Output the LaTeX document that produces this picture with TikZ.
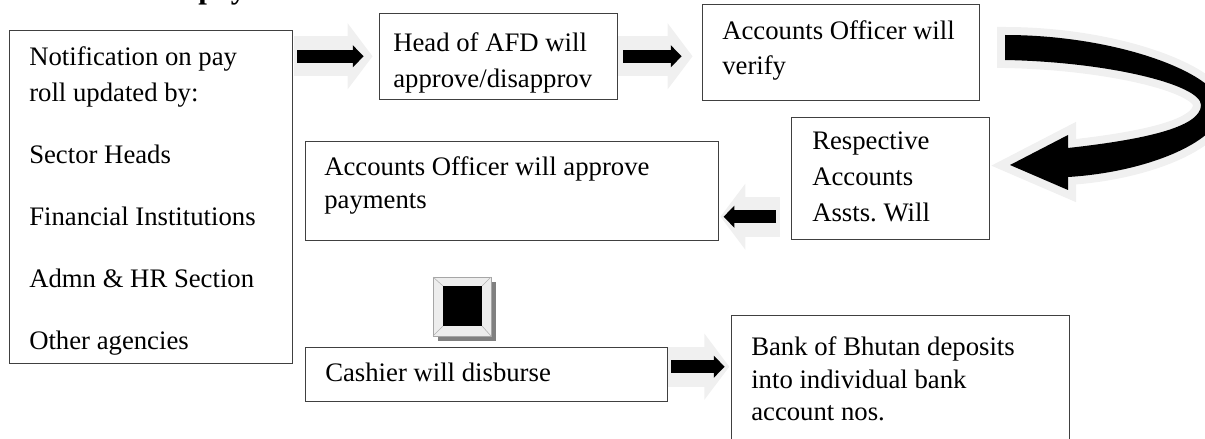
\documentclass[tikz,border=0pt]{standalone}
\usepackage{fontspec}
\setmainfont{Liberation Serif}
\usetikzlibrary{arrows.meta}
\usetikzlibrary{fit, calc}
\frenchspacing

\tikzset{
  stage/.style={draw=black!75, line width=0.6pt, inner sep=0pt},
  txt/.style={anchor=base west, align=left, inner sep=0pt, font=\fontsize{19}{25.6}\selectfont},
  halo/.style={draw=black!6, line width=1.0cm, -{Triangle[length=0.625cm, width=1.625cm]}},
  flow/.style={draw=black, line width=0.3125cm, -{Triangle[length=0.27cm, width=0.54cm]}}
}

\begin{document}
\begin{tikzpicture}[x=0.025cm, y=-0.025cm]
\useasboundingbox (0,0) rectangle (1205,439);
\node[anchor=base west, inner sep=0pt, font=\fontsize{22}{26}\selectfont\bfseries] (title) at (198,-1.5) {pay};

\node[stage, fit={(9.3,30.7) (292.7,363.3)}] (src) {};
\node[stage, fit={(379,13.3) (617,99.3)}] (afd) {};
\node[stage, fit={(702,4.3) (979,100)}] (verify) {};
\node[stage, fit={(791,117) (989,239)}] (resp) {};
\node[stage, fit={(305,141) (718,240)}] (approve) {};
\node[stage, fit={(305,347) (667,401)}] (cashier) {};
\node[stage, fit={(731,315) (1069,460)}] (bank) {};

% base = last line
\node[txt] (srctxt) at (29,349.3) {Notification on pay\\roll updated by:\\[18.5pt]Sector Heads\\[18.5pt]Financial Institutions\\[18.5pt]Admn \& HR Section\\[18.5pt]Other agencies};
\node[txt] (afdtxt) at (393,88) {Head of AFD will\\approve/disapprov};
\node[txt] (verifytxt) at (722,75) {Accounts Officer will\\verify};
\node[txt] (resptxt) at (812,221.7) {Respective\\Accounts\\Assts. Will};
\node[txt, font=\fontsize{19}{23.5}\selectfont] (approvetxt) at (324,208.5) {Accounts Officer will approve\\payments};
\node[txt] (cashtxt) at (325,381) {Cashier will disburse};
\node[txt, font=\fontsize{19}{23}\selectfont] (banktxt) at (751,420.5) {Bank of Bhutan deposits\\into individual bank\\account nos.};

\draw[halo, shorten <=0.02cm, shorten >=0.15cm] (src.east |- afd.west) -- (afd.west);
\draw[flow, shorten <=0.1cm, shorten >=0.375cm] (src.east |- afd.west) -- (afd.west);

\draw[halo, shorten <=0.02cm, shorten >=0.225cm] (afd.east) -- (afd.east -| verify.west);
\draw[flow, shorten <=0.15cm, shorten >=0.5cm] (afd.east) -- (afd.east -| verify.west);

\coordinate (back) at ($(resp.west)+(0,38.7)$);
\draw[halo, shorten <=0.275cm, shorten >=0.05cm] (back) -- (back -| approve.east);
\draw[flow, shorten <=0.36cm, shorten >=0.13cm] (back) -- (back -| approve.east);

\coordinate (pay) at ($(cashier.east)+(0,-7.3)$);
\draw[halo, shorten <=0.02cm, shorten >=0.03cm] (pay) -- (pay -| bank.west);
\draw[flow, shorten <=0.1cm, shorten >=0.15cm] (pay) -- (pay -| bank.west);

% curved arrow
\fill[black, preaction={draw=black!6, line width=0.4cm}] (1005,35) .. controls (1120,35) and (1222,75) .. (1222,108)
  .. controls (1222,140) and (1150,172) .. (1068,177) -- (1068,190) -- (1010,165) -- (1068,135) -- (1068,148)
  .. controls (1140,140) and (1201,128) .. (1201,105) .. controls (1201,85) and (1110,62) .. (1005,60) -- cycle;

% button
\fill[black!50] (438,282) rectangle (496,341);
\draw[black!35, fill=black!7] (433,277) rectangle (491,336);
\draw[black!30] (433,277) -- (443,286) (491,277) -- (482,286) (433,336) -- (443,326) (491,336) -- (482,326);
\fill[black] (443,286) rectangle (482,326);

\end{tikzpicture}
\end{document}
